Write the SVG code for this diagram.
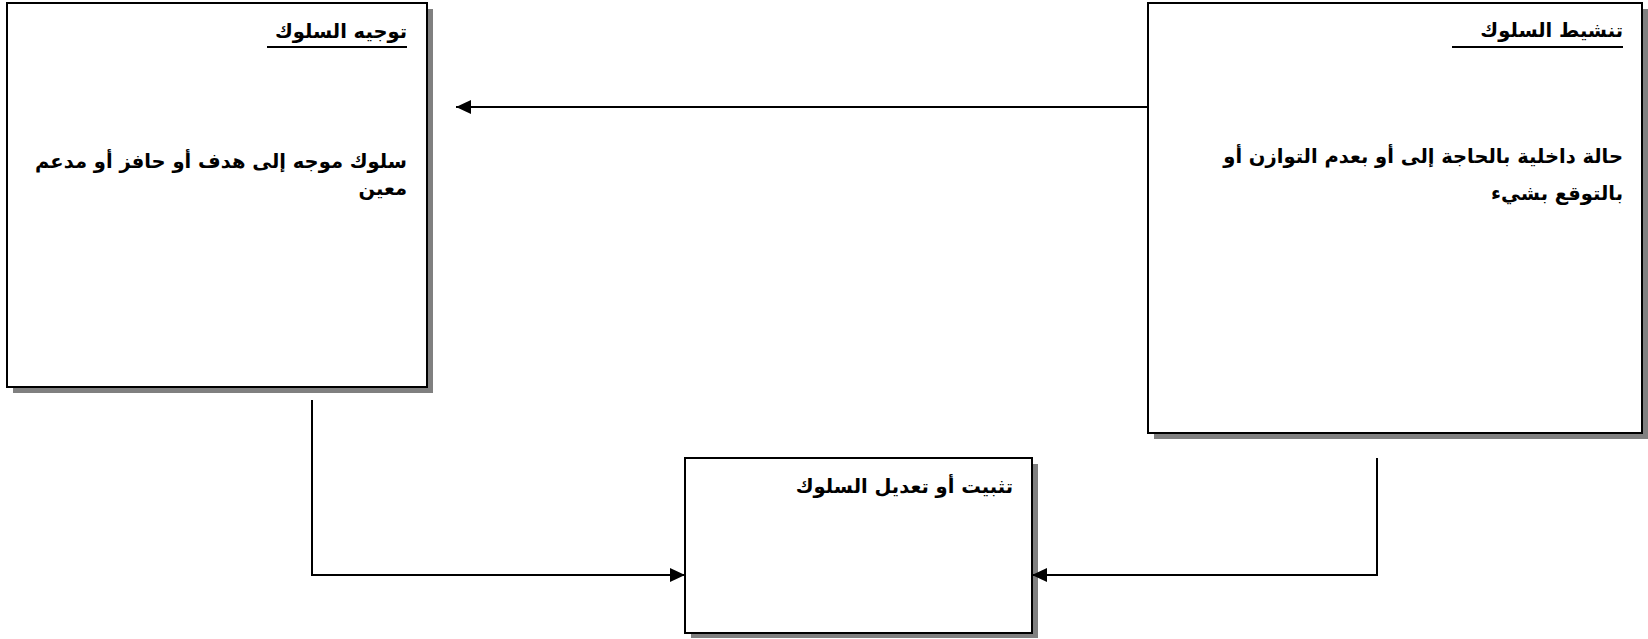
<svg xmlns="http://www.w3.org/2000/svg" width="1648" height="639" viewBox="0 0 1648 639">
<defs>
<marker id="ah" viewBox="0 0 15 14" refX="15" refY="7" markerWidth="15" markerHeight="14" markerUnits="userSpaceOnUse" orient="auto">
<path d="M0,0 L15,7 L0,14 Z" fill="#000"/>
</marker>
</defs>
<style>
.shadow{fill:#808080;stroke:none}
.box{fill:#fff;stroke:#000;stroke-width:2}
.t{font-family:"DejaVu Sans","Liberation Sans",sans-serif;font-weight:bold;font-size:19.5px;fill:#000;text-anchor:start;direction:rtl}
.ul{stroke:#000;stroke-width:2}
.conn{fill:none;stroke:#000;stroke-width:2}
</style>
<rect width="1648" height="639" fill="#fff"/>
<g id="node-direct">
<rect class="shadow" x="13" y="9" width="420" height="384"/>
<rect class="box" x="7" y="3" width="420" height="384"/>
<text class="t" x="407" y="38">توجيه السلوك</text>
<line class="ul" x1="267" y1="47" x2="407" y2="47"/>
<text class="t" x="407" y="168">سلوك موجه إلى هدف أو حافز أو مدعم</text>
<text class="t" x="407" y="195">معين</text>
</g>
<g id="node-activate">
<rect class="shadow" x="1154" y="9" width="494" height="430"/>
<rect class="box" x="1148" y="3" width="494" height="430"/>
<text class="t" x="1623" y="37">تنشيط السلوك</text>
<line class="ul" x1="1452" y1="47" x2="1623" y2="47"/>
<text class="t" x="1623" y="163">حالة داخلية بالحاجة إلى أو بعدم التوازن أو</text>
<text class="t" x="1623" y="200">بالتوقع بشيء</text>
</g>
<g id="node-fix">
<rect class="shadow" x="691" y="464" width="347" height="174"/>
<rect class="box" x="685" y="458" width="347" height="175"/>
<text class="t" x="1013" y="493">تثبيت أو تعديل السلوك</text>
</g>
<g id="connectors">
<path class="conn" d="M1148,107 L456,107" marker-end="url(#ah)"/>
<path class="conn" d="M312,400 L312,575 L685,575" marker-end="url(#ah)"/>
<path class="conn" d="M1377,458 L1377,575 L1032,575" marker-end="url(#ah)"/>
</g>
</svg>
